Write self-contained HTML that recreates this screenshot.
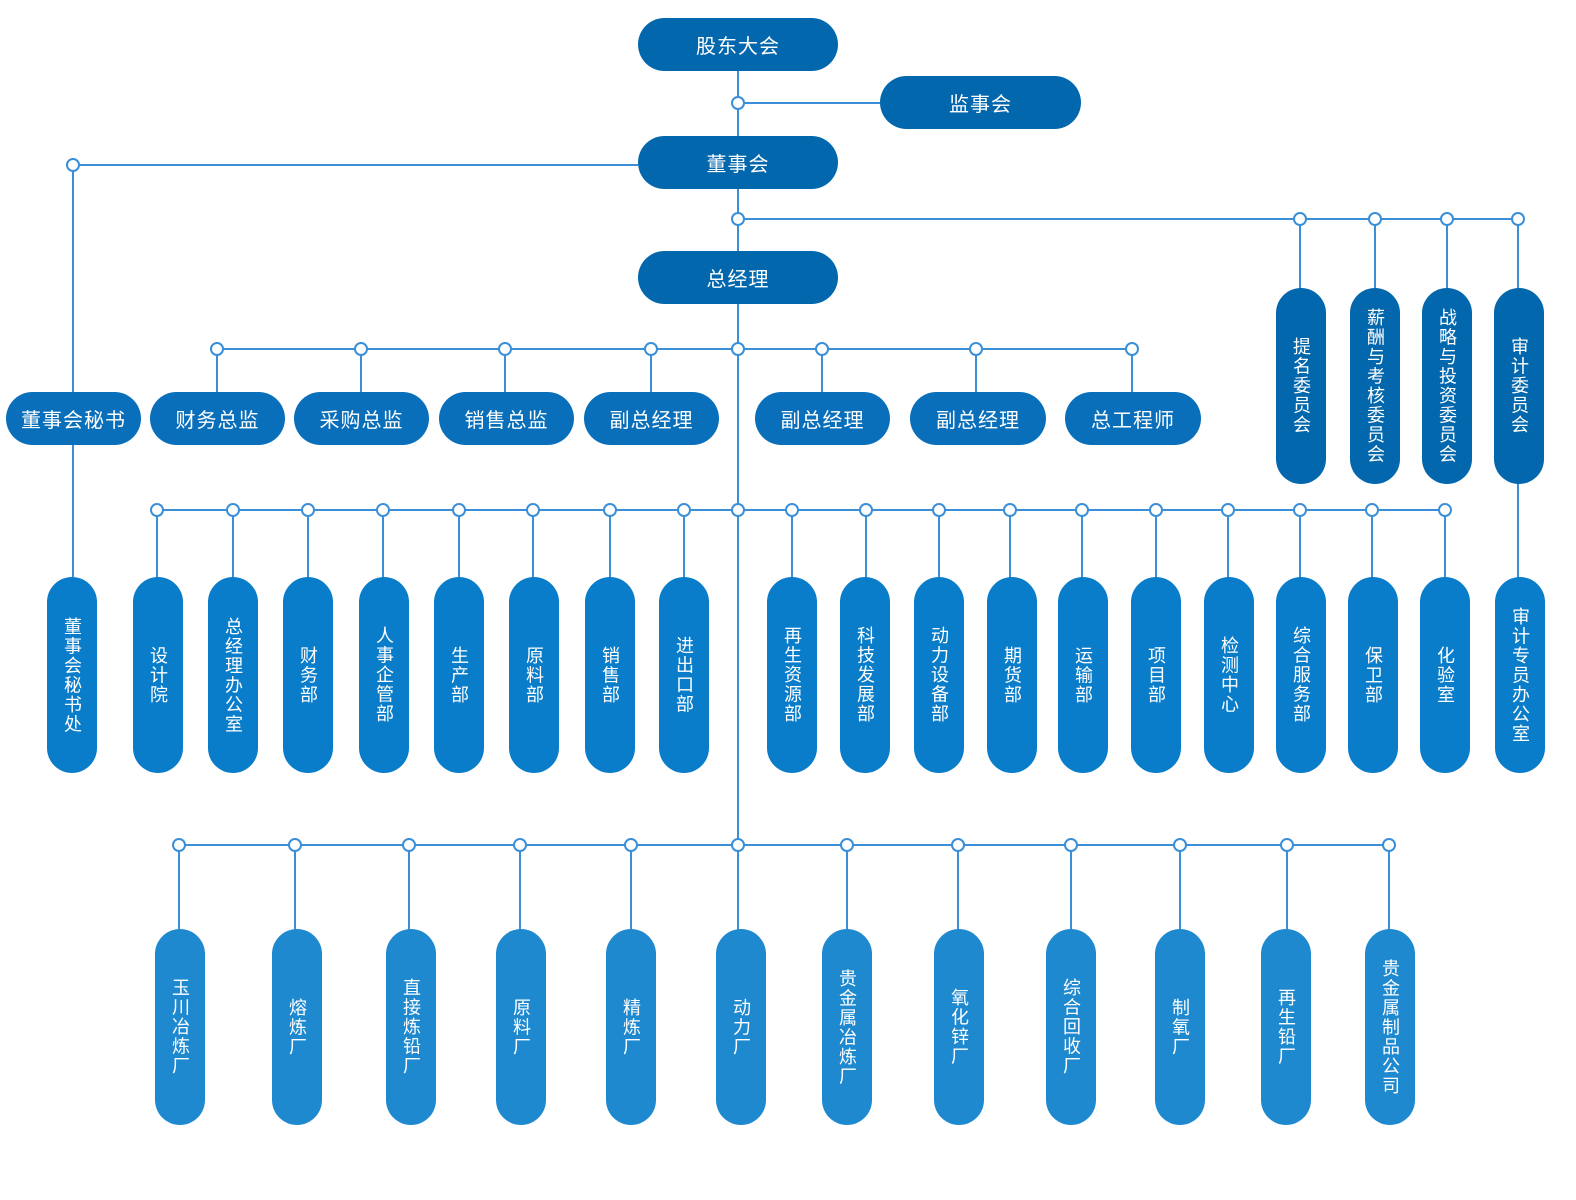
<!DOCTYPE html>
<html><head><meta charset="utf-8"><style>
body{margin:0;width:1576px;height:1200px;background:#fff;position:relative;overflow:hidden;font-family:"Liberation Sans","Noto Sans CJK SC",sans-serif}
svg{position:absolute;left:0;top:0}
.h{position:absolute;height:53px;border-radius:27px;background:#0367ad;color:#fff;font-size:20px;display:flex;align-items:center;justify-content:center;letter-spacing:1px}
.m{background:#0a6fba}
.v{position:absolute;width:50px;height:196px;border-radius:25px;color:#fff;font-size:18px;letter-spacing:1.5px;writing-mode:vertical-rl;display:flex;align-items:center;justify-content:center;background:#0a7dca}
.c{background:#0367ad}
.b{background:#1f89d0}
</style></head><body>
<svg width="1576" height="1200" stroke="#3b8fd8" stroke-width="2" fill="#fff">
<line x1="738" y1="70" x2="738" y2="845"/>
<line x1="738" y1="103" x2="880" y2="103"/>
<polyline points="638,165 73,165 73,577" fill="none"/>
<line x1="738" y1="219" x2="1518" y2="219"/>
<line x1="1300" y1="219" x2="1300" y2="290"/><line x1="1375" y1="219" x2="1375" y2="290"/><line x1="1447" y1="219" x2="1447" y2="290"/><line x1="1518" y1="219" x2="1518" y2="580"/>
<line x1="217" y1="349" x2="1132" y2="349"/>
<line x1="217" y1="349" x2="217" y2="392"/><line x1="361" y1="349" x2="361" y2="392"/><line x1="505" y1="349" x2="505" y2="392"/><line x1="651" y1="349" x2="651" y2="392"/><line x1="822" y1="349" x2="822" y2="392"/><line x1="976" y1="349" x2="976" y2="392"/><line x1="1132" y1="349" x2="1132" y2="392"/>
<line x1="157" y1="510" x2="1445" y2="510"/>
<g>
<line x1="157" y1="510" x2="157" y2="580"/><line x1="233" y1="510" x2="233" y2="580"/><line x1="308" y1="510" x2="308" y2="580"/><line x1="383" y1="510" x2="383" y2="580"/><line x1="459" y1="510" x2="459" y2="580"/><line x1="533" y1="510" x2="533" y2="580"/><line x1="610" y1="510" x2="610" y2="580"/><line x1="684" y1="510" x2="684" y2="580"/><line x1="792" y1="510" x2="792" y2="580"/><line x1="866" y1="510" x2="866" y2="580"/><line x1="939" y1="510" x2="939" y2="580"/><line x1="1010" y1="510" x2="1010" y2="580"/><line x1="1082" y1="510" x2="1082" y2="580"/><line x1="1156" y1="510" x2="1156" y2="580"/><line x1="1228" y1="510" x2="1228" y2="580"/><line x1="1300" y1="510" x2="1300" y2="580"/><line x1="1372" y1="510" x2="1372" y2="580"/><line x1="1445" y1="510" x2="1445" y2="580"/>
</g>
<line x1="179" y1="845" x2="1389" y2="845"/>
<g>
<line x1="179" y1="845" x2="179" y2="932"/><line x1="295" y1="845" x2="295" y2="932"/><line x1="409" y1="845" x2="409" y2="932"/><line x1="520" y1="845" x2="520" y2="932"/><line x1="631" y1="845" x2="631" y2="932"/><line x1="738" y1="845" x2="738" y2="932"/><line x1="847" y1="845" x2="847" y2="932"/><line x1="958" y1="845" x2="958" y2="932"/><line x1="1071" y1="845" x2="1071" y2="932"/><line x1="1180" y1="845" x2="1180" y2="932"/><line x1="1287" y1="845" x2="1287" y2="932"/><line x1="1389" y1="845" x2="1389" y2="932"/>
</g>
<g>
<circle cx="738" cy="103" r="6"/><circle cx="73" cy="165" r="6"/><circle cx="738" cy="219" r="6"/>
<circle cx="1300" cy="219" r="6"/><circle cx="1375" cy="219" r="6"/><circle cx="1447" cy="219" r="6"/><circle cx="1518" cy="219" r="6"/>
<circle cx="217" cy="349" r="6"/><circle cx="361" cy="349" r="6"/><circle cx="505" cy="349" r="6"/><circle cx="651" cy="349" r="6"/><circle cx="738" cy="349" r="6"/><circle cx="822" cy="349" r="6"/><circle cx="976" cy="349" r="6"/><circle cx="1132" cy="349" r="6"/>
<circle cx="157" cy="510" r="6"/><circle cx="233" cy="510" r="6"/><circle cx="308" cy="510" r="6"/><circle cx="383" cy="510" r="6"/><circle cx="459" cy="510" r="6"/><circle cx="533" cy="510" r="6"/><circle cx="610" cy="510" r="6"/><circle cx="684" cy="510" r="6"/><circle cx="738" cy="510" r="6"/><circle cx="792" cy="510" r="6"/><circle cx="866" cy="510" r="6"/><circle cx="939" cy="510" r="6"/><circle cx="1010" cy="510" r="6"/><circle cx="1082" cy="510" r="6"/><circle cx="1156" cy="510" r="6"/><circle cx="1228" cy="510" r="6"/><circle cx="1300" cy="510" r="6"/><circle cx="1372" cy="510" r="6"/><circle cx="1445" cy="510" r="6"/>
<circle cx="179" cy="845" r="6"/><circle cx="295" cy="845" r="6"/><circle cx="409" cy="845" r="6"/><circle cx="520" cy="845" r="6"/><circle cx="631" cy="845" r="6"/><circle cx="738" cy="845" r="6"/><circle cx="847" cy="845" r="6"/><circle cx="958" cy="845" r="6"/><circle cx="1071" cy="845" r="6"/><circle cx="1180" cy="845" r="6"/><circle cx="1287" cy="845" r="6"/><circle cx="1389" cy="845" r="6"/>
</g>
</svg>

<div class="h" style="left:638px;top:18px;width:200px">股东大会</div>
<div class="h" style="left:880px;top:76px;width:201px">监事会</div>
<div class="h" style="left:638px;top:136px;width:200px">董事会</div>
<div class="h" style="left:638px;top:251px;width:200px">总经理</div>

<div class="h m" style="left:6px;top:392px;width:135px">董事会秘书</div>
<div class="h m" style="left:150px;top:392px;width:135px">财务总监</div>
<div class="h m" style="left:294px;top:392px;width:135px">采购总监</div>
<div class="h m" style="left:439px;top:392px;width:135px">销售总监</div>
<div class="h m" style="left:584px;top:392px;width:135px">副总经理</div>
<div class="h m" style="left:755px;top:392px;width:135px">副总经理</div>
<div class="h m" style="left:910px;top:392px;width:136px">副总经理</div>
<div class="h m" style="left:1065px;top:392px;width:136px">总工程师</div>

<div class="v c" style="left:1276px;top:288px">提名委员会</div>
<div class="v c" style="left:1350px;top:288px">薪酬与考核委员会</div>
<div class="v c" style="left:1422px;top:288px">战略与投资委员会</div>
<div class="v c" style="left:1494px;top:288px">审计委员会</div>

<div class="v" style="left:47px;top:577px">董事会秘书处</div>
<div class="v" style="left:133px;top:577px">设计院</div>
<div class="v" style="left:208px;top:577px">总经理办公室</div>
<div class="v" style="left:283px;top:577px">财务部</div>
<div class="v" style="left:359px;top:577px">人事企管部</div>
<div class="v" style="left:434px;top:577px">生产部</div>
<div class="v" style="left:509px;top:577px">原料部</div>
<div class="v" style="left:585px;top:577px">销售部</div>
<div class="v" style="left:659px;top:577px">进出口部</div>
<div class="v" style="left:767px;top:577px">再生资源部</div>
<div class="v" style="left:840px;top:577px">科技发展部</div>
<div class="v" style="left:914px;top:577px">动力设备部</div>
<div class="v" style="left:987px;top:577px">期货部</div>
<div class="v" style="left:1058px;top:577px">运输部</div>
<div class="v" style="left:1131px;top:577px">项目部</div>
<div class="v" style="left:1204px;top:577px">检测中心</div>
<div class="v" style="left:1276px;top:577px">综合服务部</div>
<div class="v" style="left:1348px;top:577px">保卫部</div>
<div class="v" style="left:1420px;top:577px">化验室</div>
<div class="v" style="left:1495px;top:577px">审计专员办公室</div>

<div class="v b" style="left:155px;top:929px">玉川冶炼厂</div>
<div class="v b" style="left:272px;top:929px">熔炼厂</div>
<div class="v b" style="left:386px;top:929px">直接炼铅厂</div>
<div class="v b" style="left:496px;top:929px">原料厂</div>
<div class="v b" style="left:606px;top:929px">精炼厂</div>
<div class="v b" style="left:716px;top:929px">动力厂</div>
<div class="v b" style="left:822px;top:929px">贵金属冶炼厂</div>
<div class="v b" style="left:934px;top:929px">氧化锌厂</div>
<div class="v b" style="left:1046px;top:929px">综合回收厂</div>
<div class="v b" style="left:1155px;top:929px">制氧厂</div>
<div class="v b" style="left:1261px;top:929px">再生铅厂</div>
<div class="v b" style="left:1365px;top:929px">贵金属制品公司</div>
</body></html>
